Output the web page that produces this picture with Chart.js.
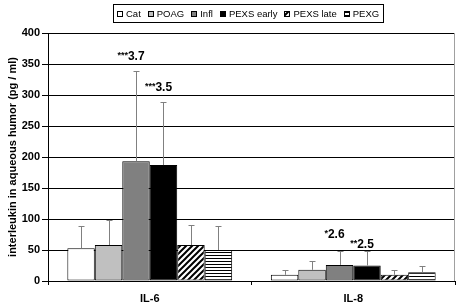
<!DOCTYPE html>
<html>
<head>
<meta charset="utf-8">
<script src="https://cdn.jsdelivr.net/npm/chart.js@4"></script>
<style>
  html, body { margin: 0; padding: 0; background: #fff; }
  #wrap { width: 458px; height: 308px; }
</style>
</head>
<body>
<div id="wrap"><canvas id="ilChart" width="458" height="308"></canvas></div>
<script>
// groups and series
const categories = ["IL-6", "IL-8"];
const seriesNames = ["Cat", "POAG", "Infl", "PEXS early", "PEXS late", "PEXG"];
const catValues = [53, 10];
const poagValues = [58, 18];
const inflValues = [193, 26];
const pexsEarlyValues = [187, 25];
const pexsLateValues = [58, 10];
const pexgValues = [50, 14];
// upper error bar ends (mean + SD)
const catErr = [88, 17];
const poagErr = [98, 33];
const inflErr = [338, 49];
const pexsEarlyErr = [288, 49];
const pexsLateErr = [90, 17];
const pexgErr = [88, 25];
const yTicks = [0, 50, 100, 150, 200, 250, 300, 350, 400];
// significance notes: [series index, category index, stars, value, label height]
const notes = [
  [2, 0, "***", "3.7", 365],
  [3, 0, "***", "3.5", 315],
  [2, 1, "*", "2.6", 77],
  [3, 1, "**", "2.5", 61],
];

function stripePattern(kind) {
  const c = document.createElement("canvas");
  const ctx = c.getContext("2d");
  if (kind === "diag") {
    c.width = 6; c.height = 6;
    ctx.fillStyle = "#fff";
    ctx.fillRect(0, 0, 6, 6);
    ctx.strokeStyle = "#000";
    ctx.lineWidth = 2;
    ctx.beginPath();
    ctx.moveTo(-1, 7); ctx.lineTo(7, -1);
    ctx.moveTo(-4, 4); ctx.lineTo(4, -4);
    ctx.moveTo(2, 10); ctx.lineTo(10, 2);
    ctx.stroke();
  } else {
    c.width = 4; c.height = 3;
    ctx.fillStyle = "#fff";
    ctx.fillRect(0, 0, 4, 3);
    ctx.fillStyle = "#000";
    ctx.fillRect(0, 0, 4, 1);
  }
  return ctx.createPattern(c, "repeat");
}

const fills = ["#ffffff", "#c0c0c0", "#808080", "#000000", stripePattern("diag"), stripePattern("horiz")];
const values = [catValues, poagValues, inflValues, pexsEarlyValues, pexsLateValues, pexgValues];
const errors = [catErr, poagErr, inflErr, pexsEarlyErr, pexsLateErr, pexgErr];

const extras = {
  id: "extras",
  afterDatasetsDraw(chart) {
    const ctx = chart.ctx;
    const y = chart.scales.y;
    const area = chart.chartArea;
    ctx.save();
    // error bars
    ctx.strokeStyle = "#808080";
    ctx.lineWidth = 1;
    errors.forEach((errs, di) => {
      const meta = chart.getDatasetMeta(di);
      meta.data.forEach((bar, i) => {
        const x = Math.round(bar.x) + 0.5;
        const yTop = Math.round(y.getPixelForValue(errs[i])) + 0.5;
        ctx.beginPath();
        ctx.moveTo(x, bar.y);
        ctx.lineTo(x, yTop);
        ctx.moveTo(x - 3, yTop);
        ctx.lineTo(x + 3, yTop);
        ctx.stroke();
      });
    });
    // right frame
    ctx.strokeStyle = "#a0a0a0";
    ctx.beginPath();
    ctx.moveTo(Math.round(area.right) - 0.5, area.top);
    ctx.lineTo(Math.round(area.right) - 0.5, area.bottom);
    ctx.stroke();
    // significance labels
    ctx.fillStyle = "#000";
    ctx.textBaseline = "alphabetic";
    notes.forEach(([di, ci, stars, num, h]) => {
      const bar = chart.getDatasetMeta(di).data[ci];
      const base = y.getPixelForValue(h) + 5;
      ctx.font = "bold 12px 'Liberation Sans', Arial, sans-serif";
      const wNum = ctx.measureText(num).width;
      ctx.font = "bold 9px 'Liberation Sans', Arial, sans-serif";
      const wStar = ctx.measureText(stars).width;
      const x0 = bar.x - 5 - (wNum + wStar) / 2;
      ctx.fillText(stars, x0, base - 2);
      ctx.font = "bold 12px 'Liberation Sans', Arial, sans-serif";
      ctx.fillText(num, x0 + wStar, base);
    });
    // legend
    ctx.font = "9.5px 'Liberation Sans', Arial, sans-serif";
    const box = 6, gapText = 3, gapItem = 7, padX = 4;
    const widths = seriesNames.map(n => ctx.measureText(n).width);
    let total = padX * 2 - gapItem;
    widths.forEach(w => { total += box + gapText + w + gapItem; });
    total = Math.round(total);
    const lx = Math.round(248 - total / 2);
    const ly = 4, lh = 18;
    ctx.fillStyle = "#fff";
    ctx.fillRect(lx, ly, total, lh);
    ctx.strokeStyle = "#000";
    ctx.strokeRect(lx + 0.5, ly + 0.5, total, lh);
    let cx = lx + padX;
    seriesNames.forEach((n, i) => {
      const by = ly + 7;
      ctx.fillStyle = fills[i];
      ctx.fillRect(Math.round(cx), by, box, box);
      ctx.strokeStyle = "#000";
      ctx.strokeRect(Math.round(cx) + 0.5, by + 0.5, box - 1, box - 1);
      ctx.fillStyle = "#000";
      ctx.textBaseline = "middle";
      ctx.fillText(n, cx + box + gapText, ly + lh / 2 + 1);
      cx += box + gapText + widths[i] + gapItem;
    });
    ctx.restore();
  }
};

new Chart(document.getElementById("ilChart").getContext("2d"), {
  type: "bar",
  data: {
    labels: categories,
    datasets: seriesNames.map((name, i) => ({
      label: name,
      data: values[i],
      backgroundColor: fills[i],
      borderColor: "#000",
      borderWidth: 1,
      borderSkipped: false,
      categoryPercentage: 0.81,
      barPercentage: 1.0,
    })),
  },
  options: {
    responsive: false,
    animation: false,
    devicePixelRatio: 1,
    layout: { padding: { top: 33, right: 3, left: 0, bottom: 0 } },
    scales: {
      x: {
        grid: { display: true, drawOnChartArea: false, color: "#000", tickLength: 4, offset: true },
        border: { color: "#000" },
        ticks: {
          color: "#000",
          padding: 7,
          font: { family: "'Liberation Sans', Arial, sans-serif", size: 11, weight: "bold" },
        },
        afterFit(scale) { scale.height = 27; },
      },
      y: {
        min: 0,
        max: 400,
        afterBuildTicks(scale) { scale.ticks = yTicks.map(v => ({ value: v })); },
        grid: { color: "#000", tickLength: 6 },
        border: { color: "#000" },
        ticks: {
          color: "#000",
          padding: 2,
          font: { family: "'Liberation Sans', Arial, sans-serif", size: 11, weight: "bold" },
        },
        title: {
          display: true,
          text: "interleukin in aqueous humor (pg / ml)",
          color: "#000",
          padding: { top: 6, bottom: 0 },
          font: { family: "'Liberation Sans', Arial, sans-serif", size: 11, weight: "bold" },
        },
        afterFit(scale) { scale.width = 48; },
      },
    },
    plugins: {
      legend: { display: false },
      tooltip: { enabled: false },
    },
  },
  plugins: [extras],
});
</script>
</body>
</html>
